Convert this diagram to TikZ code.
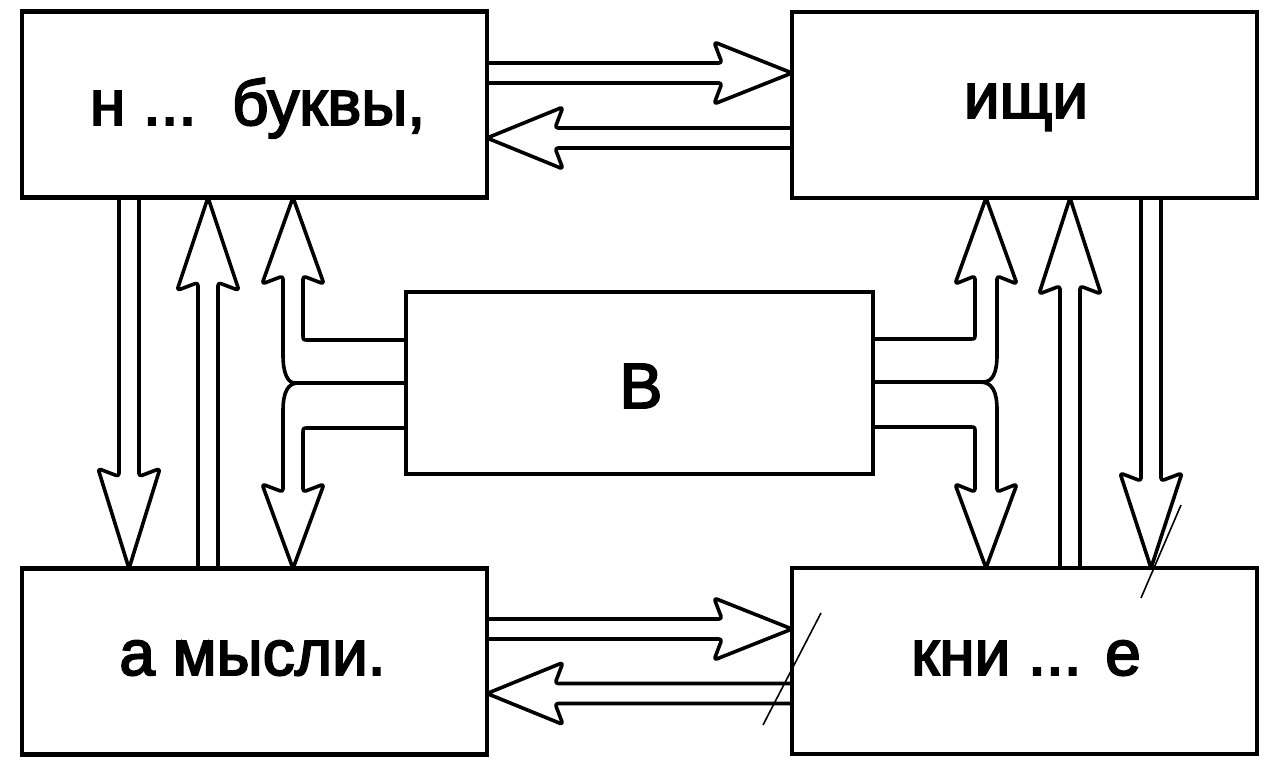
\documentclass[tikz,border=0pt]{standalone}
\usepackage{fontspec}
\setmainfont{Liberation Sans}
\newfontfamily\lblfont[FakeBold=3]{Liberation Sans}
\usetikzlibrary{calc}
\tikzset{box/.style = {draw, line width=4.8pt, minimum width=465pt, minimum height=186pt, inner sep=0pt, outer sep=0pt}}
\tikzset{lbl/.style = {inner sep=0pt, anchor=base, font=\lblfont\fontsize{64}{70}\selectfont}}
\tikzset{arrowline/.style = {line width=3.6pt, line join=round, rounded corners=3pt}}
\tikzset{scratch/.style = {line width=1.6pt}}

\newcommand\hollowarrow[3][80]{%
  \pgfmathsetmacro\hj{#1-8}%
  \draw[arrowline] ($(#2)!10pt!90:(#3)$)
    -- ($(#3)!\hj pt!(#2)!10pt!90:(#3)$)
    -- ($(#3)!#1pt!(#2)!31pt!90:(#3)$)
    -- (#3)
    -- ($(#3)!#1pt!(#2)!31pt!-90:(#3)$)
    -- ($(#3)!\hj pt!(#2)!10pt!-90:(#3)$)
    -- ($(#2)!10pt!-90:(#3)$);}

\begin{document}
\begin{tikzpicture}[x=1pt, y=-1pt]
\useasboundingbox (0,0) rectangle (1274,767);

\node[box] (nb) at (254.5,104.5) {};
\node[box] (ish) at (1024.5,105) {};
\node[box, minimum width=467pt, minimum height=182pt] (cb) at (639.5,383) {};
\node[box] (am) at (254.5,661.5) {};
\node[box] (kn) at (1024.5,661) {};

\node[lbl] (nbt) at ($(nb.center)+(3,20.5)$) {н ...\ \ буквы,};
\node[lbl] (isht) at ($(ish.center)+(1.5,13)$) {ищи};
\node[lbl] (cbt) at ($(cb.center)+(1.5,25)$) {В};
\node[lbl] (amt) at ($(am.center)+(-2,13.5)$) {а мысли.};
\node[lbl] (knt) at ($(kn.center)+(1.5,14)$) {кни ... е};

\coordinate (r1) at (0,73);
\coordinate (r2) at (0,138);
\coordinate (r3) at (0,629);
\coordinate (r4) at (0,693.5);
\coordinate (c1) at (129,0);
\coordinate (c2) at (208,0);
\coordinate (c3) at (1070,0);
\coordinate (c4) at (1151,0);
\coordinate (fl) at (293,0);
\coordinate (fr) at (986,0);

\hollowarrow[78]{nb.east |- r1}{ish.west |- r1}
\hollowarrow[76]{ish.west |- r2}{nb.east |- r2}
\hollowarrow[78]{am.east |- r3}{kn.west |- r3}
\hollowarrow[76]{kn.west |- r4}{am.east |- r4}
\hollowarrow[100]{nb.south -| c1}{am.north -| c1}
\hollowarrow[93]{am.north -| c2}{nb.south -| c2}
\hollowarrow[96]{kn.north -| c3}{ish.south -| c3}
\hollowarrow[95]{ish.south -| c4}{kn.north -| c4}

\draw[arrowline] (cb.west |- 0,340) -- (311,340) .. controls (303,340) .. (303,332) -- (303,276) -- (324,284) -- (nb.south -| fl) -- (262,284) -- (283,276) -- (283,352) .. controls (283,374) and (288,383) .. (298,383) -- (cb.west |- 0,383);
\draw[arrowline] (298,383) .. controls (288,383) and (283,392) .. (283,414) -- (283,492) -- (262,484) -- (am.north -| fl) -- (324,484) -- (303,492) -- (303,436) .. controls (303,428) .. (311,428) -- (cb.west |- 0,428);
\draw[arrowline] (cb.east |- 0,339) -- (967,339) .. controls (975,339) .. (975,331) -- (975,276) -- (955,284) -- (ish.south -| fr) -- (1017,284) -- (997,276) -- (997,352) .. controls (997,374) and (992,382) .. (980,382) -- (cb.east |- 0,382);
\draw[arrowline] (980,382) .. controls (992,382) and (997,391) .. (997,413) -- (997,492) -- (1017,484) -- (kn.north -| fr) -- (955,484) -- (975,492) -- (975,435) .. controls (975,427) .. (967,427) -- (cb.east |- 0,427);

\draw[scratch] (1181,505) -- (1141,598);
\draw[scratch] (821,613) -- (763,725);
\end{tikzpicture}
\end{document}
